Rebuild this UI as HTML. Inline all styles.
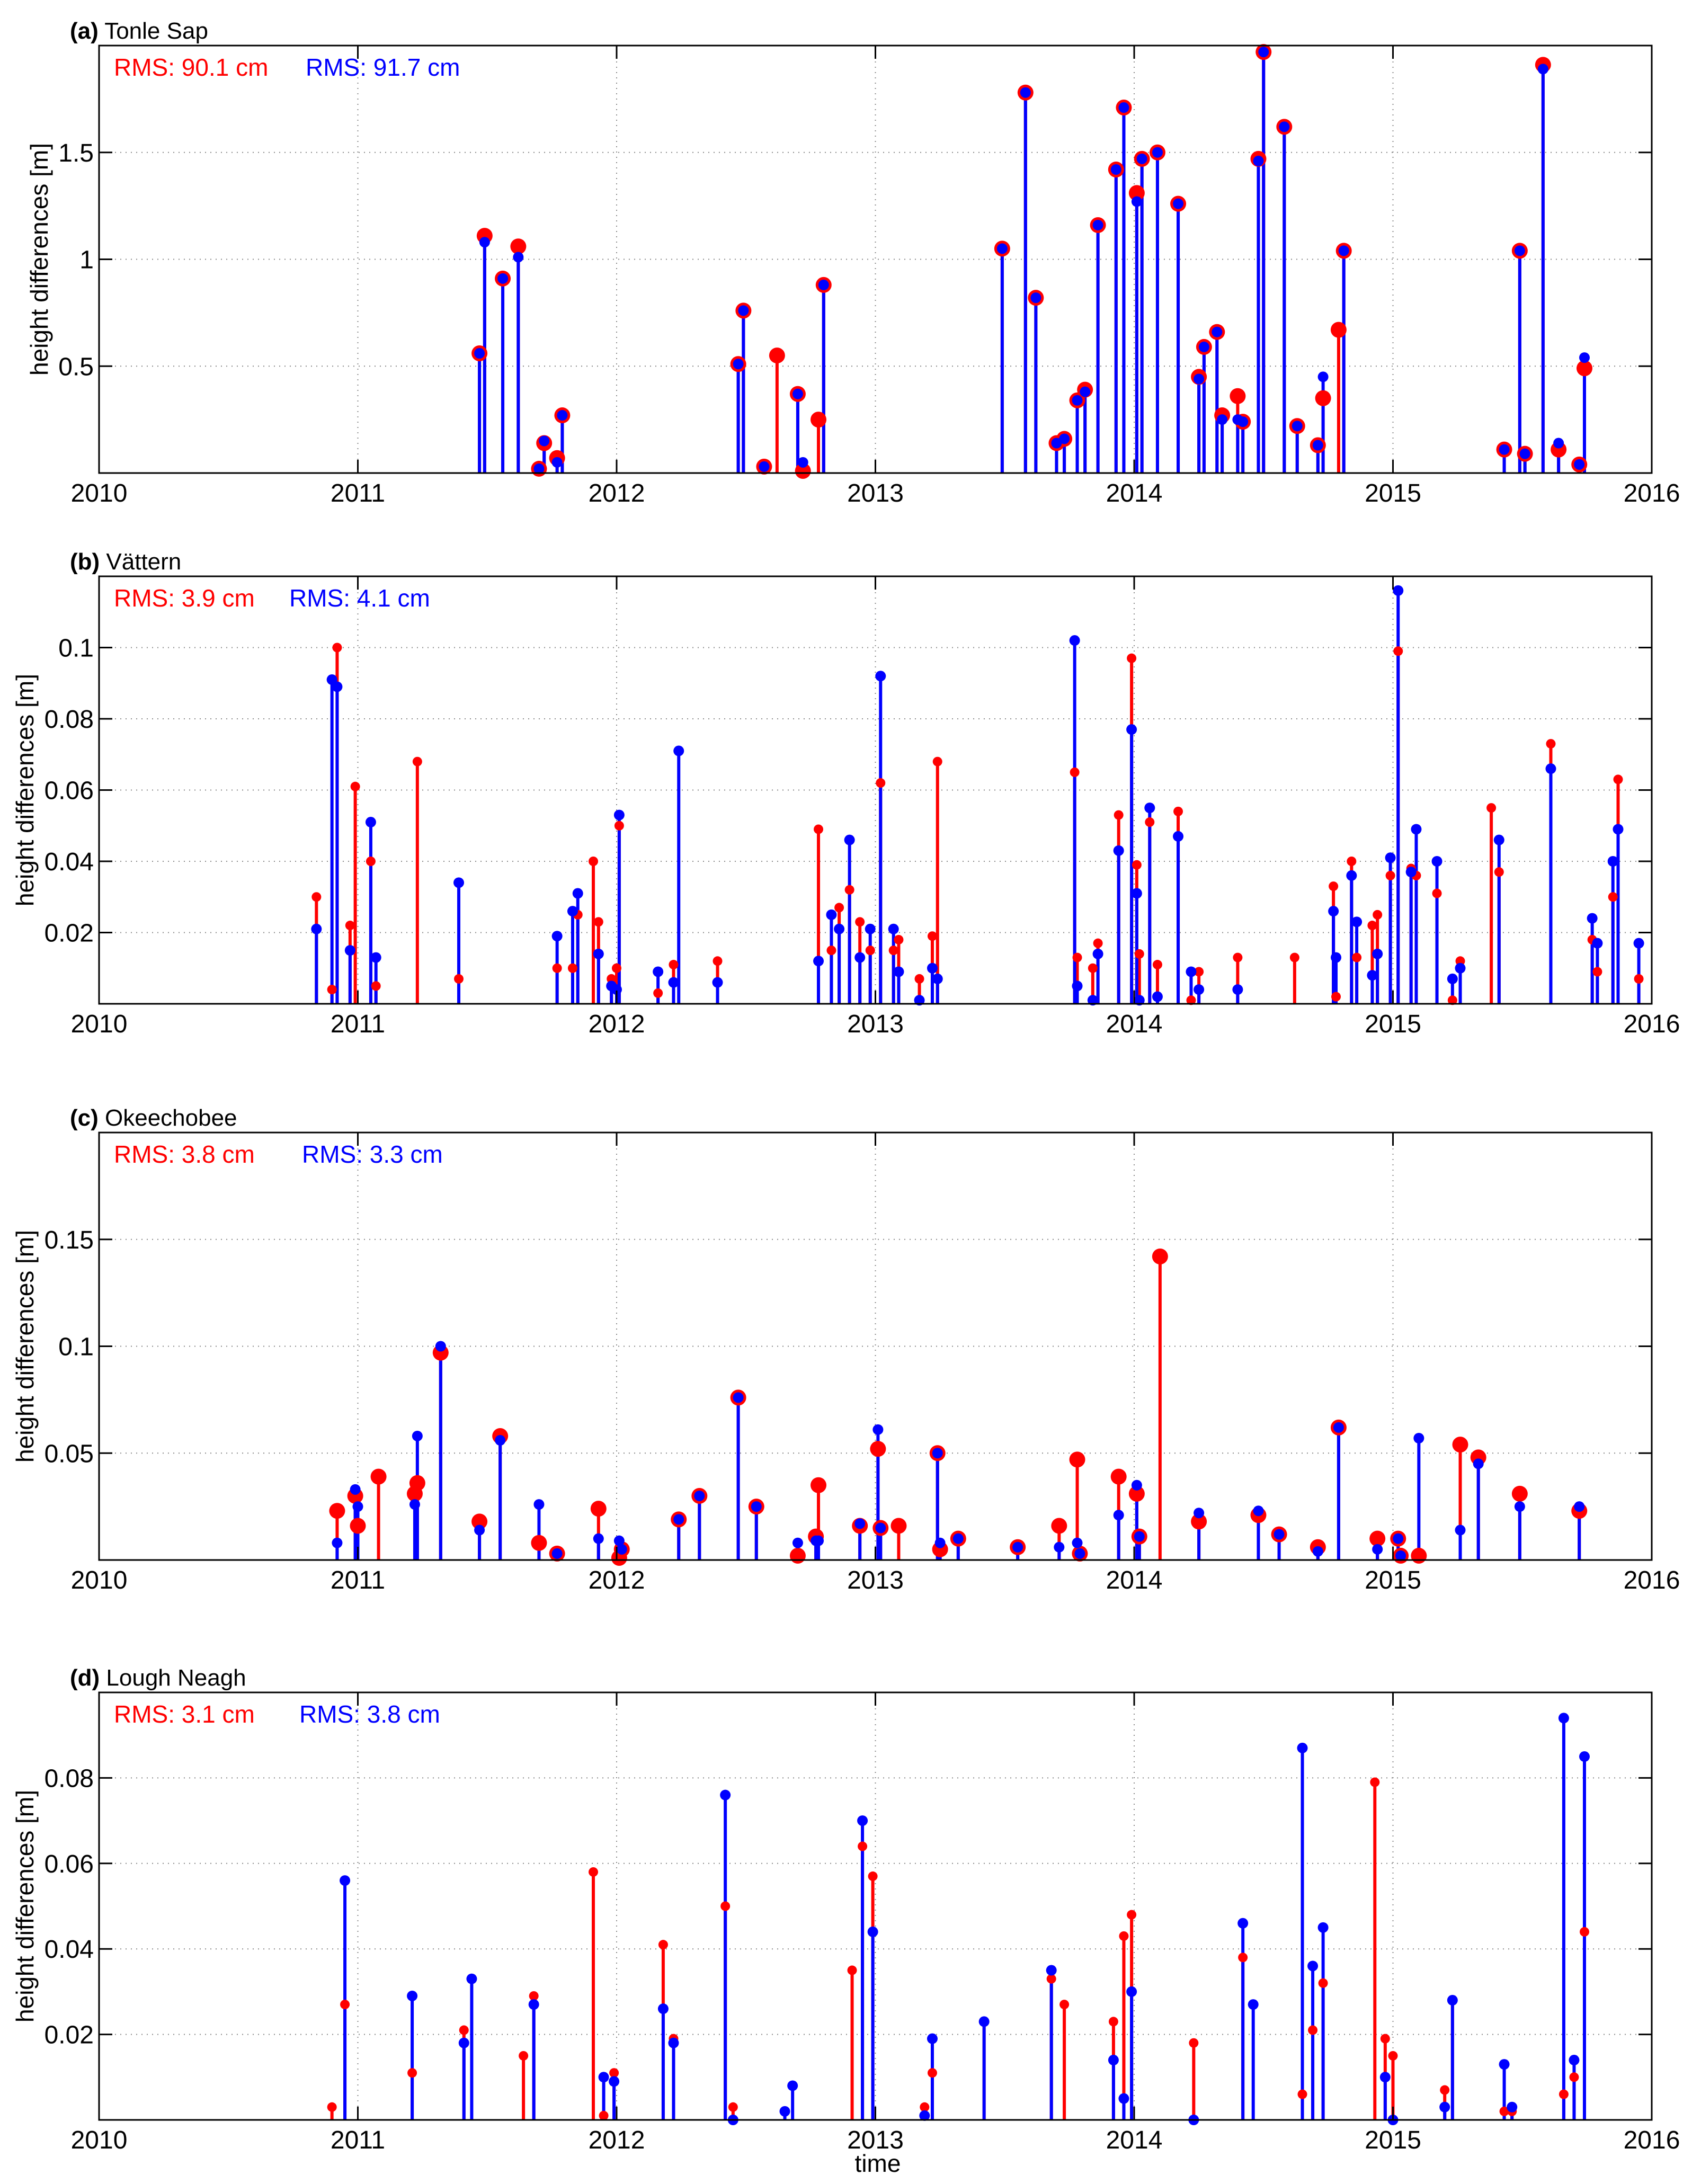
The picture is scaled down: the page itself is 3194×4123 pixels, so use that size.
<!DOCTYPE html>
<html><head><meta charset="utf-8"><style>
html,body{margin:0;padding:0;background:#fff}
svg{display:block;font-family:"Liberation Sans",sans-serif}
</style></head><body>
<svg id="fig" width="3194" height="4123" viewBox="0 0 3194 4123" xmlns="http://www.w3.org/2000/svg">
<text x="1657" y="4100" font-size="46" text-anchor="middle">time</text>
</svg>
<script>
// ---- data (decimal years, values in metres) ----
const aTimes=[2011.47,2011.49,2011.56,2011.62,2011.70,2011.72,2011.77,2011.79,2012.47,2012.49,2012.57,2012.62,2012.70,2012.72,2012.78,2012.80,2013.49,2013.58,2013.62,2013.70,2013.73,2013.78,2013.81,2013.86,2013.93,2013.96,2014.01,2014.03,2014.09,2014.17,2014.25,2014.27,2014.32,2014.34,2014.40,2014.42,2014.48,2014.50,2014.58,2014.63,2014.71,2014.73,2014.79,2014.81,2015.43,2015.49,2015.51,2015.58,2015.64,2015.72,2015.74];
const aRed=[0.56,1.11,0.91,1.06,0.02,0.14,0.07,0.27,0.51,0.76,0.03,0.55,0.37,0.01,0.25,0.88,1.05,1.78,0.82,0.14,0.16,0.34,0.39,1.16,1.42,1.71,1.31,1.47,1.50,1.26,0.45,0.59,0.66,0.27,0.36,0.24,1.47,1.97,1.62,0.22,0.13,0.35,0.67,1.04,0.11,1.04,0.09,1.91,0.11,0.04,0.49];
const aBlue=[0.56,1.08,0.91,1.01,0.02,0.15,0.05,0.27,0.51,0.76,0.03,null,0.37,0.05,null,0.88,1.05,1.78,0.82,0.14,0.16,0.34,0.38,1.16,1.42,1.71,1.27,1.47,1.50,1.26,0.44,0.59,0.66,0.25,0.25,0.24,1.46,1.97,1.62,0.22,0.13,0.45,null,1.04,0.11,1.04,0.09,1.89,0.14,0.04,0.54];

const bTimes=[2010.84,2010.90,2010.92,2010.97,2010.99,2011.05,2011.07,2011.23,2011.39,2011.77,2011.83,2011.85,2011.91,2011.93,2011.98,2012.00,2012.01,2012.16,2012.22,2012.24,2012.39,2012.78,2012.83,2012.86,2012.90,2012.94,2012.98,2013.02,2013.07,2013.09,2013.17,2013.22,2013.24,2013.77,2013.78,2013.84,2013.86,2013.94,2013.99,2014.01,2014.02,2014.06,2014.09,2014.17,2014.22,2014.25,2014.40,2014.62,2014.77,2014.78,2014.84,2014.86,2014.92,2014.94,2014.99,2015.02,2015.07,2015.09,2015.17,2015.23,2015.26,2015.38,2015.41,2015.61,2015.77,2015.79,2015.85,2015.87,2015.95];
const bRed=[0.030,0.004,0.100,0.022,0.061,0.040,0.005,0.068,0.007,0.010,0.010,0.025,0.040,0.023,0.007,0.010,0.050,0.003,0.011,null,0.012,0.049,0.015,0.027,0.032,0.023,0.015,0.062,0.015,0.018,0.007,0.019,0.068,0.065,0.013,0.010,0.017,0.053,0.097,0.039,0.014,0.051,0.011,0.054,0.001,0.009,0.013,0.013,0.033,0.002,0.040,0.013,0.022,0.025,0.036,0.099,0.038,0.036,0.031,0.001,0.012,0.055,0.037,0.073,0.018,0.009,0.030,0.063,0.007];
const bBlue=[0.021,0.091,0.089,0.015,null,0.051,0.013,null,0.034,0.019,0.026,0.031,null,0.014,0.005,0.004,0.053,0.009,0.006,0.071,0.006,0.012,0.025,0.021,0.046,0.013,0.021,0.092,0.021,0.009,0.001,0.010,0.007,0.102,0.005,0.001,0.014,0.043,0.077,0.031,0.001,0.055,0.002,0.047,0.009,0.004,0.004,null,0.026,0.013,0.036,0.023,0.008,0.014,0.041,0.116,0.037,0.049,0.040,0.007,0.010,null,0.046,0.066,0.024,0.017,0.040,0.049,0.017];

const cTimes=[2010.92,2010.99,2011.00,2011.08,2011.22,2011.23,2011.32,2011.47,2011.55,2011.70,2011.77,2011.93,2012.01,2012.02,2012.24,2012.32,2012.47,2012.54,2012.70,2012.77,2012.78,2012.94,2013.01,2013.02,2013.09,2013.24,2013.25,2013.32,2013.55,2013.71,2013.78,2013.79,2013.94,2014.01,2014.02,2014.10,2014.25,2014.48,2014.56,2014.71,2014.79,2014.94,2015.02,2015.03,2015.10,2015.26,2015.33,2015.49,2015.72];
const cRed=[0.023,0.030,0.016,0.039,0.031,0.036,0.097,0.018,0.058,0.008,0.003,0.024,0.001,0.005,0.019,0.030,0.076,0.025,0.002,0.011,0.035,0.016,0.052,0.015,0.016,0.050,0.005,0.010,0.006,0.016,0.047,0.003,0.039,0.031,0.011,0.142,0.018,0.021,0.012,0.006,0.062,0.010,0.010,0.002,0.002,0.054,0.048,0.031,0.023];
const cBlue=[0.008,0.033,0.025,null,0.026,0.058,0.100,0.014,0.056,0.026,0.003,0.010,0.009,0.005,0.019,0.030,0.076,0.025,0.008,0.009,0.009,0.017,0.061,0.015,null,0.050,0.008,0.010,0.006,0.006,0.008,0.003,0.021,0.035,0.011,null,0.022,0.023,0.012,0.004,0.062,0.005,0.010,0.002,0.057,0.014,0.045,0.025,0.025];

const dTimes=[2010.90,2010.95,2011.21,2011.41,2011.44,2011.64,2011.68,2011.91,2011.95,2011.99,2012.18,2012.22,2012.42,2012.45,2012.65,2012.68,2012.91,2012.95,2012.99,2013.19,2013.22,2013.42,2013.68,2013.73,2013.92,2013.96,2013.99,2014.23,2014.42,2014.46,2014.65,2014.69,2014.73,2014.93,2014.97,2015.00,2015.20,2015.23,2015.43,2015.46,2015.66,2015.70,2015.74];
const dRed=[0.003,0.027,0.011,0.021,null,0.015,0.029,0.058,0.001,0.011,0.041,0.019,0.050,0.003,null,null,0.035,0.064,0.057,0.003,0.011,0.023,0.033,0.027,0.023,0.043,0.048,0.018,0.038,null,0.006,0.021,0.032,0.079,0.019,0.015,0.007,0.028,0.002,0.002,0.006,0.010,0.044];
const dBlue=[null,0.056,0.029,0.018,0.033,null,0.027,null,0.010,0.009,0.026,0.018,0.076,0.000,0.002,0.008,null,0.070,0.044,0.001,0.019,0.023,0.035,null,0.014,0.005,0.030,0.000,0.046,0.027,0.087,0.036,0.045,null,0.010,0.000,0.003,0.028,0.013,0.003,0.094,0.014,0.085];

const xTicks=[2010,2011,2012,2013,2014,2015,2016];
const aYTicks=[0.5,1,1.5], bYTicks=[0.02,0.04,0.06,0.08,0.1], cYTicks=[0.05,0.1,0.15], dYTicks=[0.02,0.04,0.06,0.08];
const aYLabels=["0.5","1","1.5"], bYLabels=["0.02","0.04","0.06","0.08","0.1"], cYLabels=["0.05","0.1","0.15"], dYLabels=["0.02","0.04","0.06","0.08"];

const NS="http://www.w3.org/2000/svg";
const svg=document.getElementById('fig');
const L=187,R=3118,PH=807;
function mk(tag,attrs,parent){const e=document.createElementNS(NS,tag);for(const k in attrs)e.setAttribute(k,attrs[k]);(parent||svg).appendChild(e);return e;}
function xScale(t){return L+(t-2010)/6*(R-L);}

function panel(key,top,ymax,times,red,blue,yTicks,yLabels,letter,name,rmsR,rmsB,blueX,rR,rB,ylabX){
  const bot=top+PH;
  const yScale=v=>bot-v/ymax*PH;
  const g=mk('g',{});
  
  
  xTicks.forEach(t=>{if(t>2010&&t<2016){const l=mk('line',{x1:xScale(t),x2:xScale(t),y1:top,y2:bot,stroke:'#888','stroke-width':2,'stroke-dasharray':'2,8'},g);
    }});
  yTicks.forEach(v=>{const l=mk('line',{x1:L,x2:R,y1:yScale(v),y2:yScale(v),stroke:'#888','stroke-width':2,'stroke-dasharray':'2,8'},g);
    });
  const drawStems=(vals,col,nm)=>vals.forEach((v,i)=>{if(v===null)return;const x=xScale(times[i]);
    const s=mk('line',{x1:x,x2:x,y1:bot,y2:yScale(v),stroke:col,'stroke-width':6},g);
    });
  const drawDots=(vals,col,r,nm)=>vals.forEach((v,i)=>{if(v===null)return;
    const c=mk('circle',{cx:xScale(times[i]),cy:yScale(v),r:r,fill:col},g);
    });
  drawStems(red,'#ff0000','red');
  drawStems(blue,'#0000ff','blue');
  drawDots(red,'#ff0000',rR,'red');
  drawDots(blue,'#0000ff',rB,'blue');
  const fr=mk('rect',{x:L,y:top,width:R-L,height:PH,fill:'none',stroke:'#000','stroke-width':3},g);
  
  xTicks.forEach(t=>{const x=xScale(t);
    mk('line',{x1:x,x2:x,y1:bot,y2:bot-25,stroke:'#000','stroke-width':3},g);
    mk('line',{x1:x,x2:x,y1:top,y2:top+25,stroke:'#000','stroke-width':3},g);
    const tx=mk('text',{x:x,y:bot+54,'font-size':48,'text-anchor':'middle'},g);tx.textContent=String(t);
    });
  yTicks.forEach((v,i)=>{const y=yScale(v);
    mk('line',{x1:L,x2:L+25,y1:y,y2:y,stroke:'#000','stroke-width':3},g);
    mk('line',{x1:R,x2:R-25,y1:y,y2:y,stroke:'#000','stroke-width':3},g);
    const tx=mk('text',{x:L-10,y:y+17,'font-size':48,'text-anchor':'end'},g);tx.textContent=yLabels[i];
    });
  const yt=mk('text',{x:ylabX,y:(top+bot)/2,'font-size':46,'text-anchor':'middle',transform:`rotate(-90 ${ylabX} ${(top+bot)/2})`},g);
  yt.textContent='height differences [m]';
  
  const tt=mk('text',{x:L-55,y:top-13,'font-size':44},g);
  const b=mk('tspan',{'font-weight':'bold'},tt);b.textContent='('+letter+')';
  const n=mk('tspan',{},tt);n.textContent=' '+name;
  
  const r1=mk('text',{x:L+28,y:top+57,'font-size':46,fill:'#ff0000'},g);r1.textContent='RMS: '+rmsR;
  
  const r2=mk('text',{x:blueX,y:top+57,'font-size':46,fill:'#0000ff'},g);r2.textContent='RMS: '+rmsB;
  
}
panel('a',86,2.0,aTimes,aRed,aBlue,aYTicks,aYLabels,'a','Tonle Sap','90.1 cm','91.7 cm',577,15,10,90);
panel('b',1088,0.12,bTimes,bRed,bBlue,bYTicks,bYLabels,'b','Vättern','3.9 cm','4.1 cm',546,9,10,63);
panel('c',2138,0.2,cTimes,cRed,cBlue,cYTicks,cYLabels,'c','Okeechobee','3.8 cm','3.3 cm',570,15,10,63);
panel('d',3195,0.1,dTimes,dRed,dBlue,dYTicks,dYLabels,'d','Lough Neagh','3.1 cm','3.8 cm',565,9,10,63);
</script>
</body></html>
